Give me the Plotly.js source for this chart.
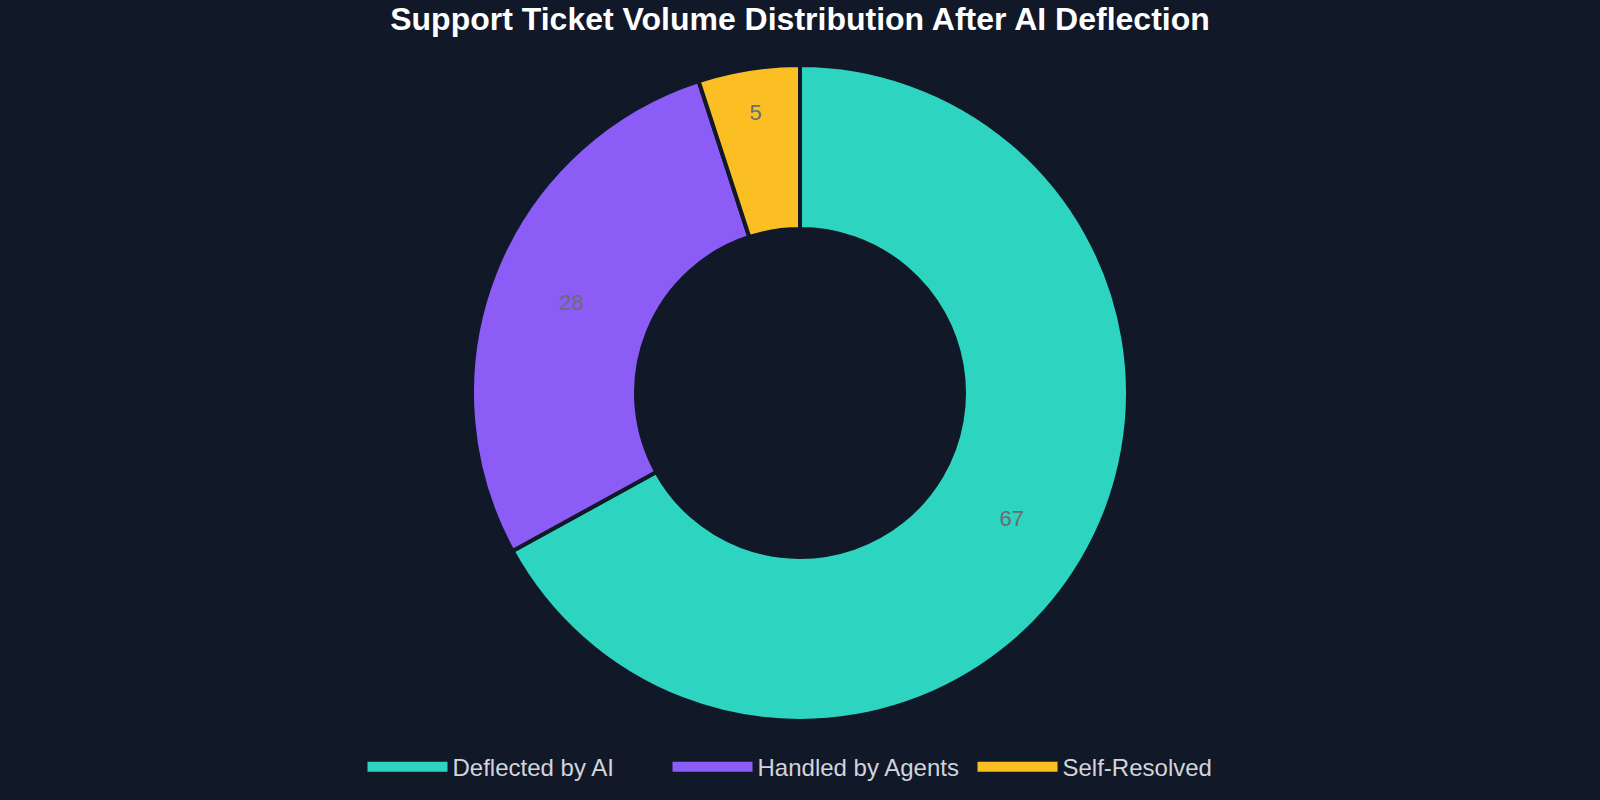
<!DOCTYPE html>
<html>
<head>
<meta charset="utf-8">
<script src="https://cdn.plot.ly/plotly-3.0.1.min.js"></script>
<style>
  html, body { margin: 0; padding: 0; background: #111827; }
  #chart { width: 1600px; height: 800px; }
</style>
</head>
<body>
<div id="chart"></div>
<script>
// ticket share after AI deflection (%)
const categories = ['Deflected by AI', 'Handled by Agents', 'Self-Resolved'];
const shares = [67, 28, 5];
const colors = ['#2dd4bf', '#8b5cf6', '#fbbf24'];

const donut = {
  type: 'pie',
  labels: categories,
  values: shares,
  hole: 0.5,
  sort: false,
  direction: 'clockwise',
  rotation: 0,
  textinfo: 'value',
  textposition: 'inside',
  insidetextorientation: 'horizontal',
  textfont: { family: 'Liberation Sans, Arial, sans-serif', size: 22, color: '#6b6b73' },
  marker: { colors: colors, line: { color: '#111827', width: 4 } },
  hoverinfo: 'label+value+percent',
  showlegend: false
};

// empty line traces only to get the wide legend swatches
const keys = categories.map((name, i) => ({
  type: 'scatter',
  mode: 'lines',
  x: [null],
  y: [null],
  name: name,
  line: { color: colors[i], width: 20 },
  hoverinfo: 'skip'
}));

const layout = {
  width: 1600,
  height: 800,
  paper_bgcolor: '#111827',
  plot_bgcolor: '#111827',
  margin: { l: 0, r: 0, t: 65, b: 79, autoexpand: false },
  font: { family: 'Liberation Sans, Arial, sans-serif', color: '#d1d5db' },
  xaxis: { visible: false, showgrid: false, zeroline: false },
  yaxis: { visible: false, showgrid: false, zeroline: false },
  title: {
    text: '<b>Support Ticket Volume Distribution After AI Deflection</b>',
    font: { size: 32, color: '#ffffff' },
    x: 0.5,
    xref: 'paper',
    xanchor: 'center',
    y: 0.977,
    yanchor: 'middle'
  },
  showlegend: true,
  legend: {
    orientation: 'h',
    x: 0.5125,
    xanchor: 'center',
    y: -0.036,
    yanchor: 'top',
    itemwidth: 80,
    entrywidth: 210,
    font: { size: 24, color: '#d1d5db' },
    bgcolor: 'rgba(0,0,0,0)'
  }
};

Plotly.newPlot('chart', [donut].concat(keys), layout, { displayModeBar: false });
</script>
</body>
</html>
